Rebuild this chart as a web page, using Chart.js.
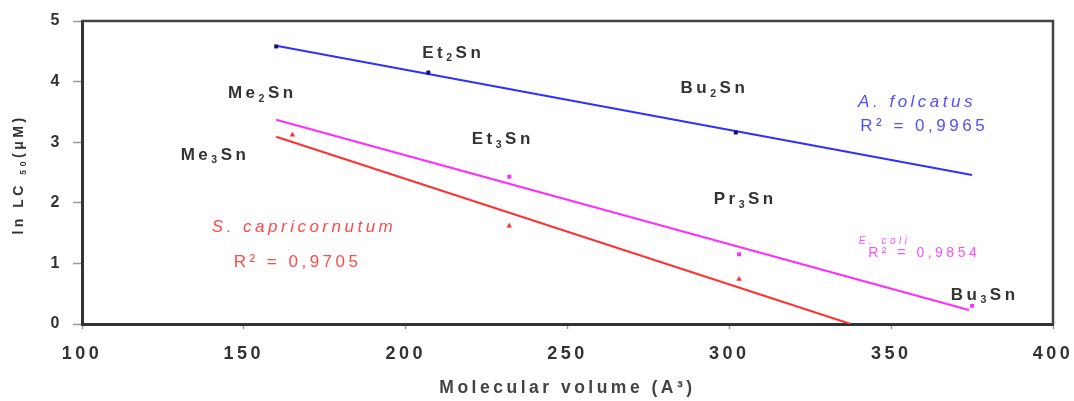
<!DOCTYPE html>
<html>
<head>
<meta charset="utf-8">
<script src="https://cdn.jsdelivr.net/npm/chart.js@4"></script>
<style>
  html, body { margin: 0; padding: 0; background: #fff; }
  #wrap { width: 1074px; height: 401px; }
</style>
</head>
<body>
<div id="wrap"><canvas id="lcChart" width="1074" height="401"></canvas></div>
<script>
// ln LC50 vs molecular volume for the organotin series, three test organisms

const xTicks = [100, 150, 200, 250, 300, 350, 400];
const yTicks = [0, 1, 2, 3, 4, 5];

// A. folcatus
const folcatusVol = [160, 207, 302];
const folcatusLC = [4.58, 4.15, 3.16];
const folcatusFitVol = [160, 375];
const folcatusFitLC = [4.59, 2.46];

// E. coli
const coliVol = [232, 303, 375];
const coliLC = [2.43, 1.15, 0.30];
const coliFitVol = [160, 374];
const coliFitLC = [3.37, 0.23];

// S. capricornutum
const capriVol = [165, 232, 303];
const capriLC = [3.12, 1.62, 0.74];
const capriFitVol = [160, 337.5];
const capriFitLC = [3.09, 0];

const compounds = ['Me₂Sn', 'Et₂Sn', 'Bu₂Sn', 'Me₃Sn', 'Et₃Sn', 'Pr₃Sn', 'Bu₃Sn'];
const fitNotes = ['A. folcatus', 'R² = 0,9965', 'E. coli', 'R² = 0,9854', 'S. capricornutum', 'R² = 0,9705'];
const yTitle = 'ln LC ₅₀(μM)';

const pairs = (xs, ys) => xs.map((x, i) => ({ x: x, y: ys[i] }));

const BLUE = '#2f2fff', MAGENTA = '#ff2cff', RED = '#ff3030';
const FONT = 'Arial, "Liberation Sans", sans-serif';

// subscript digits get drawn smaller and lowered
const SUB = { '₀': '0', '₁': '1', '₂': '2', '₃': '3', '₄': '4', '₅': '5' };

function drawRich(ctx, text, cx, cy, size, weight, style, color) {
    const runs = [];
    for (const ch of text) {
        const sub = ch in SUB;
        const last = runs[runs.length - 1];
        if (last && last.sub === sub) last.t += sub ? SUB[ch] : ch;
        else runs.push({ sub: sub, t: sub ? SUB[ch] : ch });
    }
    const font = sz => style + ' ' + weight + ' ' + sz + 'px ' + FONT;
    let w = 0;
    runs.forEach(r => {
        ctx.font = font(r.sub ? size * 0.62 : size);
        r.w = ctx.measureText(r.t).width;
        w += r.w;
    });
    let x = cx - w / 2;
    ctx.fillStyle = color;
    ctx.textAlign = 'left';
    ctx.textBaseline = 'middle';
    runs.forEach(r => {
        ctx.font = font(r.sub ? size * 0.62 : size);
        ctx.fillText(r.t, x, cy + (r.sub ? size * 0.32 : 0));
        x += r.w;
    });
}

// wide letter spacing on every piece of text
const spacing = {
    id: 'spacing',
    beforeUpdate(chart) { chart.ctx.letterSpacing = '3.5px'; },
    beforeDraw(chart) { chart.ctx.letterSpacing = '3.5px'; }
};

// top and right sides of the plot frame, plus the rotated y title
const frame = {
    id: 'frame',
    beforeDatasetsDraw(chart) {
        const { ctx, chartArea: a } = chart;
        ctx.save();
        ctx.strokeStyle = '#444';
        ctx.lineWidth = 2.5;
        ctx.beginPath();
        ctx.moveTo(a.left, a.top);
        ctx.lineTo(a.right, a.top);
        ctx.lineTo(a.right, a.bottom);
        ctx.stroke();
        ctx.translate(19, (a.top + a.bottom) / 2 + 2);
        ctx.rotate(-Math.PI / 2);
        drawRich(ctx, yTitle, 0, 0, 14, 'bold', 'normal', '#333');
        ctx.restore();
    }
};

// compound names and fit notes placed in data coordinates
const notes = {
    id: 'notes',
    afterDatasetsDraw(chart, args, opts) {
        const { ctx, scales } = chart;
        ctx.save();
        opts.compoundAt.forEach((p, i) => {
            drawRich(ctx, compounds[i], scales.x.getPixelForValue(p[0]), scales.y.getPixelForValue(p[1]), 17, 'bold', 'normal', '#333');
        });
        opts.fitAt.forEach((p, i) => {
            const s = p[2];
            drawRich(ctx, fitNotes[i], scales.x.getPixelForValue(p[0]), scales.y.getPixelForValue(p[1]), s.size, 'normal', s.italic ? 'italic' : 'normal', s.color);
        });
        ctx.restore();
    }
};

new Chart(document.getElementById('lcChart'), {
    type: 'scatter',
    data: {
        datasets: [
            { data: pairs(folcatusVol, folcatusLC), pointStyle: 'rect', pointRadius: 2.8, backgroundColor: '#101070', borderColor: '#101070', borderWidth: 0 },
            { data: pairs(coliVol, coliLC), pointStyle: 'rect', pointRadius: 2.8, backgroundColor: MAGENTA, borderColor: MAGENTA, borderWidth: 0 },
            { data: pairs(capriVol, capriLC), pointStyle: 'triangle', pointRadius: 3.2, backgroundColor: RED, borderColor: RED, borderWidth: 0 },
            { data: pairs(folcatusFitVol, folcatusFitLC), showLine: true, pointRadius: 0, borderColor: BLUE, borderWidth: 2 },
            { data: pairs(coliFitVol, coliFitLC), showLine: true, pointRadius: 0, borderColor: MAGENTA, borderWidth: 2 },
            { data: pairs(capriFitVol, capriFitLC), showLine: true, pointRadius: 0, borderColor: RED, borderWidth: 2 }
        ]
    },
    options: {
        responsive: false,
        animation: false,
        layout: { padding: { left: 0, top: 21, right: 21, bottom: 0 } },
        plugins: {
            legend: { display: false },
            tooltip: { enabled: false },
            notes: {
                compoundAt: [[155.7, 3.80], [214.7, 4.47], [295.4, 3.89], [141.1, 2.79], [230.0, 3.04], [304.9, 2.06], [378.9, 0.48]],
                fitAt: [
                    [358.0, 3.66, { size: 17, italic: true, color: '#5050ff' }],
                    [360.2, 3.27, { size: 17, italic: false, color: '#5050ff' }],
                    [348.0, 1.37, { size: 10, italic: true, color: '#ff50ff' }],
                    [360.2, 1.17, { size: 14, italic: false, color: '#ff50ff' }],
                    [168.6, 1.60, { size: 17, italic: true, color: '#ff4a4a' }],
                    [166.6, 1.01, { size: 17, italic: false, color: '#ff4a4a' }]
                ]
            }
        },
        scales: {
            x: {
                type: 'linear',
                min: xTicks[0],
                max: xTicks[xTicks.length - 1],
                afterBuildTicks: s => { s.ticks = xTicks.map(v => ({ value: v })); },
                afterFit: s => { s.height = 77; s.paddingLeft = 0; s.paddingRight = 0; },
                grid: { drawOnChartArea: false, tickLength: 5, tickColor: '#999', tickWidth: 1.5 },
                border: { color: '#333', width: 3 },
                ticks: { color: '#333', font: { family: FONT, size: 18, weight: 'bold' }, padding: 14, maxRotation: 0 },
                title: { display: true, text: 'Molecular volume (A³)', color: '#444', font: { family: FONT, size: 17.5, weight: 'bold' }, padding: { top: 0, bottom: 2 } }
            },
            y: {
                min: yTicks[0],
                max: yTicks[yTicks.length - 1],
                afterBuildTicks: s => { s.ticks = yTicks.map(v => ({ value: v })); },
                afterFit: s => { s.width = 82; s.paddingTop = 0; s.paddingBottom = 0; },
                grid: { drawOnChartArea: false, tickLength: 9, tickColor: '#999', tickWidth: 1.5 },
                border: { color: '#333', width: 3 },
                ticks: { color: '#333', font: { family: FONT, size: 16, weight: 'bold' }, padding: 10 }
            }
        }
    },
    plugins: [spacing, frame, notes]
});
</script>
</body>
</html>
